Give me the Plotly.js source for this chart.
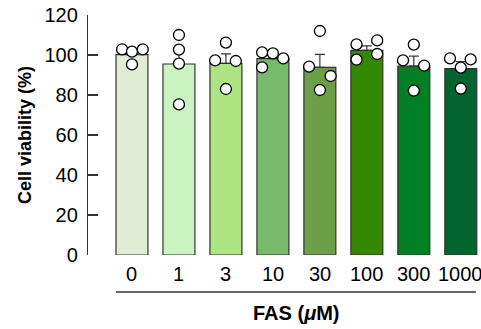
<!DOCTYPE html>
<html>
<head>
<meta charset="utf-8">
<script src="https://cdn.plot.ly/plotly-3.0.1.min.js"></script>
<style>html,body{margin:0;padding:0;background:#fff;}#chart{width:481px;height:329px;}</style>
</head>
<body>
<div id="chart"></div>
<script>
// Data
const categories = ["0", "1", "3", "10", "30", "100", "300", "1000"];
const meanViability = [100.2, 95.5, 95.8, 98.2, 93.8, 102.3, 94.4, 93.2];
const semViability = [1.7, 7.5, 4.8, 1.7, 6.5, 2.3, 5.0, 3.5];
const replicates = [
  [102.8, 101.7, 102.8, 95.3],
  [110.0, 102.7, 95.7, 75.3],
  [106.2, 97.3, 97.0, 83.0],
  [101.3, 100.8, 98.3, 93.8],
  [112.0, 94.2, 89.5, 82.5],
  [105.3, 107.3, 97.7, 100.5],
  [105.2, 97.3, 94.7, 82.2],
  [98.3, 97.8, 93.7, 83.2]
];
// horizontal spread of the dots (in category units)
const jitter = [
  [-0.21, 0, 0.23, 0],
  [0, 0, 0, 0],
  [0, -0.23, 0.21, 0],
  [-0.23, 0, 0.22, -0.23],
  [0, -0.23, 0.23, 0],
  [-0.22, 0.22, -0.22, 0.22],
  [0, -0.23, 0.22, 0],
  [-0.23, 0.21, 0, 0]
];
const barColors = ["#e0edd4", "#cbf3c1", "#ade482", "#78ba6c", "#6c9f47", "#338800", "#007f24", "#00652e"];
const tickVals = [0, 20, 40, 60, 80, 100, 120];

const idx = categories.map((c, i) => i);

const bars = {
  type: "bar",
  x: idx,
  y: meanViability,
  width: 0.68,
  marker: {color: barColors, line: {color: "#333333", width: 1.2}},
  error_y: {type: "data", array: semViability, symmetric: false, arrayminus: semViability.map(() => 0),
            visible: true, color: "#333333", thickness: 1.2, width: 5},
  hoverinfo: "skip",
  showlegend: false
};

const px = [], py = [];
replicates.forEach((vals, i) => {
  vals.forEach((v, j) => { px.push(i + jitter[i][j]); py.push(v); });
});
const dots = {
  type: "scatter",
  mode: "markers",
  x: px,
  y: py,
  marker: {size: 11, color: "#ffffff", line: {color: "#000000", width: 1.3}},
  cliponaxis: false,
  hoverinfo: "skip",
  showlegend: false
};

const font = "Liberation Sans, Arial, Helvetica, sans-serif";

// category labels drawn as annotations so that the last one may run off the edge like in the reference
const catLabels = categories.map((c, i) => ({
  xref: "x", yref: "paper", x: i, y: -0.079, xanchor: "center", yanchor: "middle",
  text: c, showarrow: false, font: {size: 20, family: font, color: "#000000"}
}));

const layout = {
  width: 481,
  height: 329,
  margin: {l: 88, r: 0, t: 15, b: 74},
  paper_bgcolor: "#ffffff",
  plot_bgcolor: "#ffffff",
  font: {family: font, color: "#000000"},
  xaxis: {
    range: [-0.936, 7.43],
    showticklabels: false,
    ticks: "",
    showline: false,
    showgrid: false,
    zeroline: false,
    fixedrange: true
  },
  yaxis: {
    range: [0, 120],
    tickmode: "array",
    tickvals: tickVals,
    ticks: "inside",
    ticklen: 10,
    tickwidth: 1.2,
    tickcolor: "#333333",
    showline: true,
    linecolor: "#333333",
    linewidth: 1.2,
    showgrid: false,
    zeroline: false,
    tickfont: {size: 20, family: font, color: "#000000"},
    ticklabelstandoff: 5,
    title: {text: "<b>Cell viability (%)</b>", font: {size: 18, family: font, color: "#000000"}, standoff: 8},
    fixedrange: true
  },
  shapes: [{
    type: "line", xref: "x", yref: "paper",
    x0: -0.34, x1: 7.32, y0: -0.154, y1: -0.154,
    line: {color: "#333333", width: 1.5}
  }],
  annotations: catLabels.concat([{
    xref: "x", yref: "paper", x: 3.5, y: -0.24, xanchor: "center", yanchor: "middle",
    text: "<b>FAS (<i>μ</i>M)</b>", showarrow: false,
    font: {size: 20, family: font, color: "#000000"}
  }])
};

Plotly.newPlot("chart", [bars, dots], layout, {staticPlot: true, displayModeBar: false});
</script>
</body>
</html>
